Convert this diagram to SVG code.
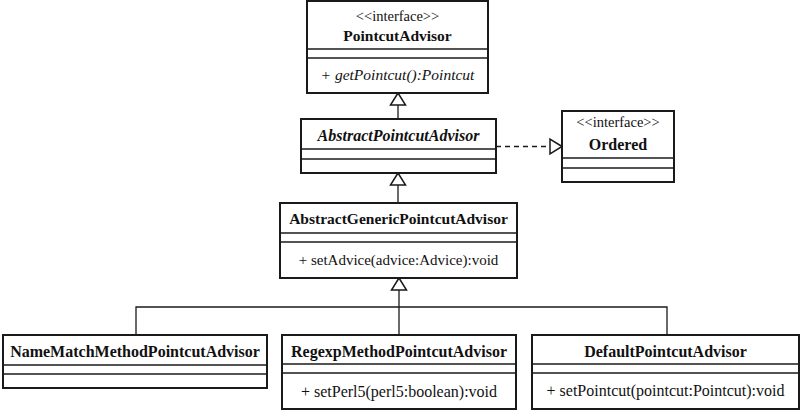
<svg xmlns="http://www.w3.org/2000/svg" width="804" height="410" viewBox="0 0 804 410">
<style>
.box{fill:#fff;stroke:#1a1a1a;stroke-width:2}
.div{stroke:#1a1a1a;stroke-width:1.5;fill:none}
.t{font-family:"Liberation Serif","Times New Roman",serif;font-size:16px;fill:#111;text-anchor:middle}
.st{font-size:14.5px}
.b{font-weight:bold}
.i{font-style:italic}
.c{stroke:#1a1a1a;stroke-width:1.3;fill:none}
.tri{fill:#fff;stroke:#1a1a1a;stroke-width:1.5}
.dash{stroke-dasharray:5,4}
</style>
<rect width="804" height="410" fill="#fff"/>
<g id="connectors">
<line class="c" x1="398" y1="119" x2="398" y2="105"/>
<polygon class="tri" points="398,93 390.5,105 405.5,105"/>
<line class="c" x1="398" y1="203" x2="398" y2="185"/>
<polygon class="tri" points="398,173 390.5,185 405.5,185"/>
<line class="c dash" x1="496" y1="146.5" x2="550" y2="146.5"/>
<polygon class="tri" points="562,146.5 550,139 550,154"/>
<line class="c" x1="399" y1="290" x2="399" y2="335"/>
<polygon class="tri" points="399,278 391.5,290 406.5,290"/>
<polyline class="c" points="136,335 136,307 667,307 667,335"/>
</g>
<g id="PointcutAdvisor">
<rect class="box" x="307" y="1" width="181" height="92"/>
<line class="div" x1="307" y1="49" x2="488" y2="49"/>
<line class="div" x1="307" y1="58" x2="488" y2="58"/>
<text class="t st" x="397.5" y="21">&lt;&lt;interface&gt;&gt;</text>
<text class="t b" x="397.5" y="41" style="font-size:15.5px">PointcutAdvisor</text>
<text class="t i" x="397.5" y="80" style="font-size:15.5px">+ getPointcut():Pointcut</text>
</g>
<g id="AbstractPointcutAdvisor">
<rect class="box" x="301" y="119" width="195" height="54" stroke-width="2.5"/>
<line class="div" x1="301" y1="149" x2="496" y2="149"/>
<line class="div" x1="301" y1="159" x2="496" y2="159"/>
<text class="t b i" x="398.5" y="141">AbstractPointcutAdvisor</text>
</g>
<g id="Ordered">
<rect class="box" x="562" y="111" width="112" height="71"/>
<line class="div" x1="562" y1="158" x2="674" y2="158"/>
<line class="div" x1="562" y1="168" x2="674" y2="168"/>
<text class="t st" x="618" y="127">&lt;&lt;interface&gt;&gt;</text>
<text class="t b" x="618" y="150">Ordered</text>
</g>
<g id="AbstractGenericPointcutAdvisor">
<rect class="box" x="280" y="203" width="237" height="75"/>
<line class="div" x1="280" y1="233" x2="517" y2="233"/>
<line class="div" x1="280" y1="242" x2="517" y2="242"/>
<text class="t b" x="398.5" y="224" style="font-size:15.5px">AbstractGenericPointcutAdvisor</text>
<text class="t" x="398.5" y="265" style="font-size:15px">+ setAdvice(advice:Advice):void</text>
</g>
<g id="NameMatchMethodPointcutAdvisor">
<rect class="box" x="3" y="335" width="264" height="53"/>
<line class="div" x1="3" y1="365" x2="267" y2="365"/>
<line class="div" x1="3" y1="374" x2="267" y2="374"/>
<text class="t b" x="135" y="357">NameMatchMethodPointcutAdvisor</text>
</g>
<g id="RegexpMethodPointcutAdvisor">
<rect class="box" x="282" y="335" width="234" height="74"/>
<line class="div" x1="282" y1="364" x2="516" y2="364"/>
<line class="div" x1="282" y1="373" x2="516" y2="373"/>
<text class="t b" x="399" y="357">RegexpMethodPointcutAdvisor</text>
<text class="t" x="399" y="397">+ setPerl5(perl5:boolean):void</text>
</g>
<g id="DefaultPointcutAdvisor">
<rect class="box" x="532" y="335" width="267" height="74"/>
<line class="div" x1="532" y1="364" x2="799" y2="364"/>
<line class="div" x1="532" y1="373" x2="799" y2="373"/>
<text class="t b" x="665.5" y="357">DefaultPointcutAdvisor</text>
<text class="t" x="665.5" y="396">+ setPointcut(pointcut:Pointcut):void</text>
</g>
</svg>
